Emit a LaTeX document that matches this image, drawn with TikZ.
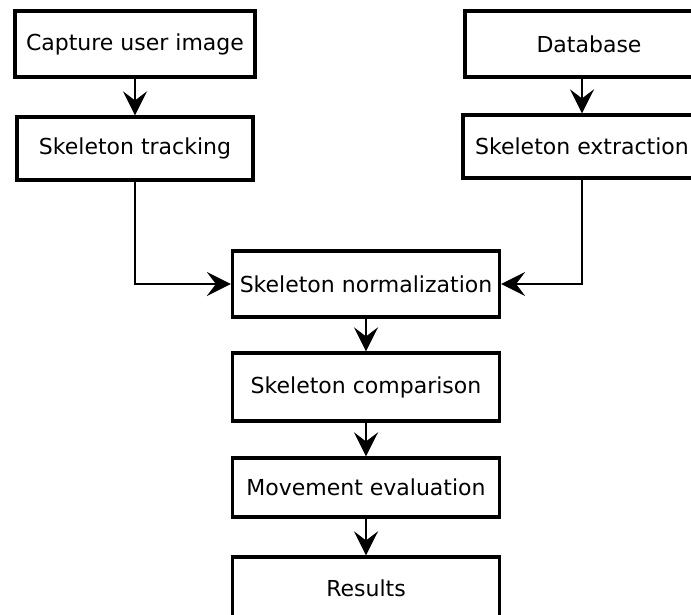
\documentclass[tikz,border=0pt]{standalone}
\usepackage{fontspec}
\setmainfont{DejaVu Sans}
\usetikzlibrary{arrows.meta}
\begin{document}
\begin{tikzpicture}[x=1pt,y=-1pt,
  box/.style={draw,line width=3.2pt,inner sep=0pt,font=\fontsize{22}{26}\selectfont},
  conn/.style={line width=2.6pt,-{Stealth[length=24pt,width=24pt,inset=9pt]}}]
\useasboundingbox (0,0) rectangle (691,615);
\node[box,minimum width=240pt,minimum height=66pt] (cap) at (135,44) {Capture user image};
\node[box,minimum width=236pt,minimum height=63pt] (track) at (135,148.5) {Skeleton tracking};
\node[box,minimum width=248pt,minimum height=66pt] (db) at (589,44) {Database};
\node[box,minimum width=238pt,minimum height=63pt] (extr) at (582,146.5) {Skeleton extraction};
\node[box,minimum width=267pt,minimum height=66pt] (norm) at (366,284) {Skeleton normalization};
\node[box,minimum width=267pt,minimum height=68pt] (comp) at (366,387) {Skeleton comparison};
\node[box,minimum width=267pt,minimum height=59pt] (move) at (366,487.5) {Movement evaluation};
\node[box,minimum width=267pt,minimum height=62pt] (res) at (366,588) {Results};
\draw[conn] (cap) -- (track);
\draw[conn] (db.south -| extr.north) -- (extr.north);
\draw[conn] (track.south) |- (norm.west);
\draw[conn] (extr.south) |- (norm.east);
\draw[conn] (norm) -- (comp);
\draw[conn] (comp) -- (move);
\draw[conn] (move) -- (res);
\end{tikzpicture}
\end{document}
